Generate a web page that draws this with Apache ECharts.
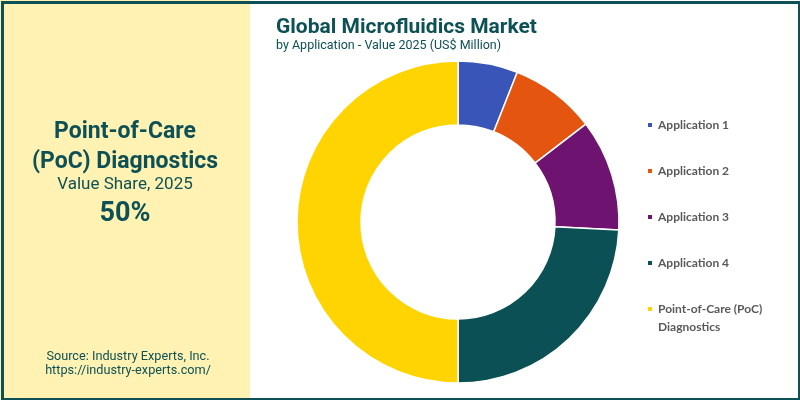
<!DOCTYPE html>
<html>
<head>
<meta charset="utf-8">
<script src="https://cdn.jsdelivr.net/npm/echarts@6/dist/echarts.min.js"></script>
<style>
  html, body { margin: 0; padding: 0; background: #fff; }
  #chart { width: 800px; height: 400px; }
</style>
</head>
<body>
<div id="chart"></div>
<script>
// data
var categories = ['Application 1', 'Application 2', 'Application 3', 'Application 4', 'Point-of-Care (PoC) Diagnostics'];
var values = [6.0, 8.6, 11.2, 24.2, 50.0];
var colors = ['#3A55B8', '#E4560F', '#6E1470', '#0B5055', '#FFD400'];

var teal = '#0D5055';

var chartDom = document.getElementById('chart');
var myChart = echarts.init(chartDom);

var pieData = categories.map(function (c, i) {
  return { name: c, value: values[i], itemStyle: { color: colors[i] } };
});

var option = {
  animation: false,
  backgroundColor: '#ffffff',
  title: [
    {
      text: 'Global Microfluidics Market',
      subtext: 'by Application - Value 2025 (US$ Million)',
      left: 271,
      top: 12,
      itemGap: 1,
      textStyle: { fontFamily: 'Roboto', fontWeight: 'bold', fontSize: 21, color: teal },
      subtextStyle: { fontFamily: 'Roboto', fontSize: 12.5, color: teal }
    }
  ],
  legend: [
    {
      orient: 'vertical',
      left: 641,
      top: 112,
      itemWidth: 6,
      itemHeight: 6,
      itemGap: 30,
      icon: 'rect',
      selectedMode: false,
      data: categories.slice(0, 4),
      textStyle: { fontFamily: 'Lato', fontWeight: 'bold', fontSize: 12, color: '#595959', lineHeight: 16 }
    },
    {
      orient: 'vertical',
      left: 641,
      top: 277,
      itemWidth: 6,
      itemHeight: 6,
      icon: 'rect',
      selectedMode: false,
      data: [categories[4]],
      // leading blank line keeps the icon level with the first text line
      formatter: function (name) { return '\nPoint-of-Care (PoC)\nDiagnostics'; },
      textStyle: { fontFamily: 'Lato', fontWeight: 'bold', fontSize: 12, color: '#595959', lineHeight: 18 }
    }
  ],
  graphic: [
    { type: 'rect', left: 0, top: 0, shape: { width: 250, height: 400 }, style: { fill: '#FFF2B3' }, z: -10 },
    { type: 'rect', left: 0, top: 0, shape: { x: 1.5, y: 1.5, width: 797, height: 397 }, style: { fill: 'none', stroke: teal, lineWidth: 3 }, z: 10 },
    { type: 'text', x: 125, y: 132, style: { text: 'Point-of-Care', fontFamily: 'Roboto', fontWeight: 'bold', fontSize: 23, fill: teal, align: 'center', verticalAlign: 'middle' } },
    { type: 'text', x: 125, y: 162, style: { text: '(PoC) Diagnostics', fontFamily: 'Roboto', fontWeight: 'bold', fontSize: 23, fill: teal, align: 'center', verticalAlign: 'middle' } },
    { type: 'text', x: 125, y: 185, style: { text: 'Value Share, 2025', fontFamily: 'Roboto', fontSize: 17, fill: teal, align: 'center', verticalAlign: 'middle' } },
    { type: 'text', x: 125, y: 214, style: { text: '50%', fontFamily: 'Roboto', fontWeight: 'bold', fontSize: 27, fill: teal, align: 'center', verticalAlign: 'middle' } },
    { type: 'text', x: 128, y: 357, style: { text: 'Source: Industry Experts, Inc.', fontFamily: 'Roboto', fontSize: 12.7, fill: teal, align: 'center', verticalAlign: 'middle' } },
    { type: 'text', x: 128, y: 371, style: { text: 'https://industry-experts.com/', fontFamily: 'Roboto', fontSize: 12.7, fill: teal, align: 'center', verticalAlign: 'middle' } }
  ],
  series: [
    {
      name: 'Application',
      type: 'pie',
      center: [458, 222],
      radius: [97, 161],
      startAngle: 90,
      clockwise: true,
      avoidLabelOverlap: false,
      label: { show: false },
      labelLine: { show: false },
      itemStyle: { borderColor: '#ffffff', borderWidth: 1.5 },
      emphasis: { disabled: true },
      data: pieData
    }
  ]
};

option && myChart.setOption(option);
</script>
</body>
</html>
